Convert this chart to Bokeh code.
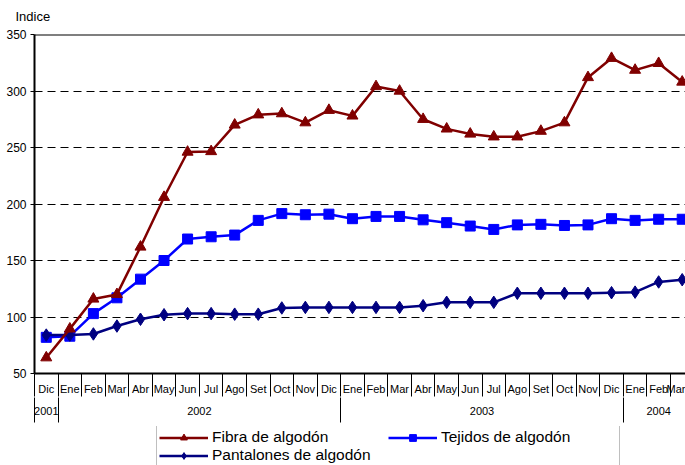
from bokeh.plotting import figure
from bokeh.layouts import column
from bokeh.models import Range1d, LinearAxis, FixedTicker, Grid, Span, Legend, LegendItem
from bokeh.embed import file_html
from bokeh.resources import INLINE

# ---- data ----
months = ["Dic", "Ene", "Feb", "Mar", "Abr", "May", "Jun", "Jul", "Ago", "Set", "Oct", "Nov",
          "Dic", "Ene", "Feb", "Mar", "Abr", "May", "Jun", "Jul", "Ago", "Set", "Oct", "Nov",
          "Dic", "Ene", "Feb", "Mar"]
years = ["2001", "2002", "2003", "2004"]
year_counts = [1, 12, 12, 3]
fibra = [64, 89.5, 116, 120, 162, 206, 246, 246.5, 270, 279, 280, 272, 283,
         278, 304, 300, 275, 266.5, 262, 259.5, 259.5, 264.5, 272, 312, 329,
         318.5, 324.5, 308]
tejidos = [82, 83, 103, 117, 133.5, 150, 169, 171, 172.5, 185.5, 191.5, 190.5, 191,
           187, 189, 189, 186, 183.5, 180.5, 177.5, 181.5, 182, 181, 181.5, 187,
           185.5, 186.5, 186.5]
pantalones = [84, 84, 85, 92, 98, 102, 103, 103, 102.5, 102.5, 108, 108.5, 108.5,
              108.5, 108.5, 108.5, 110, 113, 113, 113, 121, 121, 121, 121, 121.5,
              122, 131, 133]
series_names = ["Fibra de algodón", "Tejidos de algodón", "Pantalones de algodón"]
y_ticks = [50, 100, 150, 200, 250, 300, 350]

FONT = "Liberation Sans"
COL_F, COL_T, COL_P = "#800000", "#0000FF", "#000080"
x = list(range(len(months)))

p = figure(width=685, height=426, output_backend="svg", toolbar_location=None,
           x_range=Range1d(-0.5, 27.14), y_range=Range1d(50, 350),
           x_axis_type=None, y_axis_type=None, title="Indice",
           min_border_left=34, min_border_right=0, min_border_top=34, min_border_bottom=53)
p.outline_line_color = None
p.background_fill_color = "white"
p.border_fill_color = "white"

p.title.text_font = FONT
p.title.text_font_size = "13px"
p.title.text_font_style = "normal"
p.title.text_color = "black"
p.title.align = "left"
p.title.vertical_align = "top"
p.title.offset = -19
p.title.standoff = 17

# y axis
yaxis = LinearAxis(ticker=FixedTicker(ticks=y_ticks, minor_ticks=[]),
                   axis_line_width=2, axis_line_color="black",
                   major_tick_out=4, major_tick_in=0, major_tick_line_color="black",
                   minor_tick_out=0, minor_tick_in=0,
                   major_label_text_font=FONT, major_label_text_font_size="12px",
                   major_label_text_color="black", major_label_standoff=4)
p.add_layout(yaxis, "left")

grid = Grid(dimension=1, ticker=FixedTicker(ticks=y_ticks[1:-1]),
            grid_line_color="black", grid_line_dash="8 5", grid_line_width=1)
p.add_layout(grid)

p.add_layout(Span(location=350, dimension="width", line_color="black", line_width=2))

# month axis (separators drawn as minor ticks)
month_bounds = [i - 0.5 for i in range(len(months) + 1)]
xaxis1 = LinearAxis(ticker=FixedTicker(ticks=x, minor_ticks=month_bounds),
                    major_label_overrides={float(i): m for i, m in zip(x, months)},
                    axis_line_width=2, axis_line_color="black",
                    major_tick_out=0, major_tick_in=0,
                    minor_tick_out=23, minor_tick_in=0, minor_tick_line_color="black",
                    minor_tick_line_width=1,
                    major_label_text_font=FONT, major_label_text_font_size="11px",
                    major_label_text_color="black", major_label_standoff=-14)
p.add_layout(xaxis1, "below")

# year axis
year_centers = []
year_bounds = [-0.5]
start = 0
for c in year_counts:
    year_centers.append(start + (c - 1) / 2)
    start += c
    year_bounds.append(start - 0.5)
xaxis2 = LinearAxis(ticker=FixedTicker(ticks=year_centers, minor_ticks=year_bounds),
                    major_label_overrides={float(c): y for c, y in zip(year_centers, years)},
                    axis_line_color=None,
                    major_tick_out=0, major_tick_in=0,
                    minor_tick_out=25, minor_tick_in=0, minor_tick_line_color="black",
                    minor_tick_line_width=1,
                    major_label_text_font=FONT, major_label_text_font_size="11px",
                    major_label_text_color="black", major_label_standoff=-16)
p.add_layout(xaxis2, "below")

# series (drawing order: Tejidos, Pantalones, Fibra)
p.line(x, tejidos, line_color=COL_T, line_width=2.5)
p.scatter(x, tejidos, marker="square", size=10, color=COL_T)
p.line(x, pantalones, line_color=COL_P, line_width=2.5)
p.scatter(x, pantalones, marker="diamond", size=12.5, color=COL_P)
p.line(x, fibra, line_color=COL_F, line_width=2.5)
p.scatter(x, fibra, marker="triangle", size=11, color=COL_F)

# legend strip below the chart (its ranges keep the series out of view;
# the renderers only provide the legend glyphs)
p2 = figure(width=685, height=39, output_backend="svg", toolbar_location=None,
            x_range=Range1d(-1000, -999), y_range=Range1d(-1000, -999),
            x_axis_type=None, y_axis_type=None, min_border=0)
p2.outline_line_color = None
p2.background_fill_color = "white"
p2.border_fill_color = "white"

items = []
for name, col, mk, vals in zip(series_names, [COL_F, COL_T, COL_P],
                               ["triangle", "square", "diamond"],
                               [fibra, tejidos, pantalones]):
    lr = p2.line(x, vals, line_color=col, line_width=2.5)
    sr = p2.scatter(x, vals, marker=mk, size=10, color=col)
    items.append(LegendItem(label=name, renderers=[lr, sr]))

legend = Legend(items=items, orientation="horizontal", ncols=2,
                location=(122, -2),
                label_text_font=FONT, label_text_font_size="15.5px",
                label_text_color="black",
                label_height=16, glyph_height=17, glyph_width=49,
                label_standoff=4, label_width=176, padding=2, spacing=0, margin=0,
                border_line_color="#7f7f7f", border_line_width=1.5,
                background_fill_color="white", background_fill_alpha=1)
p2.add_layout(legend, "center")

layout = column(p, p2, spacing=0)
open("out.html", "w").write(file_html(layout, INLINE))
